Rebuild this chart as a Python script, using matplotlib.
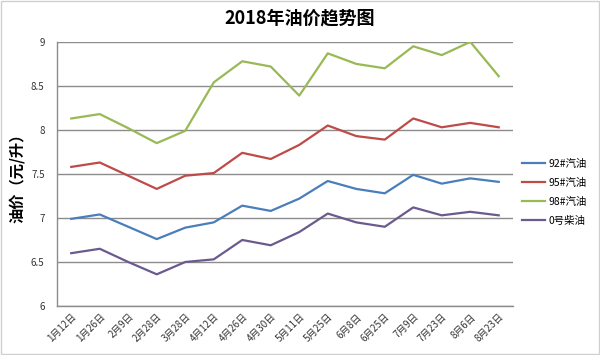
import matplotlib
matplotlib.use('Agg')
import matplotlib.pyplot as plt
from matplotlib.patches import Rectangle

plt.rcParams['font.family'] = ['Noto Sans CJK SC', 'DejaVu Sans']

# dates of price adjustment
dates = ['1月12日', '1月26日', '2月9日', '2月28日', '3月28日', '4月12日', '4月26日', '4月30日',
         '5月11日', '5月25日', '6月8日', '6月25日', '7月9日', '7月23日', '8月6日', '8月23日']

p92 = [6.99, 7.04, 6.90, 6.76, 6.89, 6.95, 7.14, 7.08, 7.22, 7.42, 7.33, 7.28, 7.49, 7.39, 7.45, 7.41]
p95 = [7.58, 7.63, 7.48, 7.33, 7.48, 7.51, 7.74, 7.67, 7.83, 8.05, 7.93, 7.89, 8.13, 8.03, 8.08, 8.03]
p98 = [8.13, 8.18, 8.02, 7.85, 7.99, 8.54, 8.78, 8.72, 8.39, 8.87, 8.75, 8.70, 8.95, 8.85, 9.00, 8.61]
p0 = [6.60, 6.65, 6.50, 6.36, 6.50, 6.53, 6.75, 6.69, 6.84, 7.05, 6.95, 6.90, 7.12, 7.03, 7.07, 7.03]

series = [
    ('92#汽油', p92, '#4a7ebb'),
    ('95#汽油', p95, '#be4b48'),
    ('98#汽油', p98, '#98b954'),
    ('0号柴油', p0, '#6b5a8e'),
]

fig = plt.figure(figsize=(6.0, 3.55), dpi=100)
ax = fig.add_axes([0.095, 0.138, 0.76, 0.744])

x = list(range(len(dates)))
for name, vals, col in series:
    ax.plot(x, vals, color=col, linewidth=1.6, label=name)

ax.set_xlim(-0.5, len(dates) - 0.5)
ax.set_ylim(6, 9)
ax.set_yticks([6, 6.5, 7, 7.5, 8, 8.5, 9])
ax.set_yticklabels(['6', '6.5', '7', '7.5', '8', '8.5', '9'])
ax.set_xticks(x)
ax.set_xticklabels(dates, rotation=45, ha='right', rotation_mode='anchor')
ax.tick_params(axis='both', length=0, labelsize=7, colors='#333333')
ax.tick_params(axis='y', pad=9)
ax.tick_params(axis='x', pad=4)

ax.grid(axis='y', color='#8c8c8c', linewidth=1.0)
ax.set_axisbelow(True)
for s in ['top', 'right']:
    ax.spines[s].set_visible(False)
for s in ['left', 'bottom']:
    ax.spines[s].set_color('#8c8c8c')
    ax.spines[s].set_linewidth(1.0)

ax.set_ylabel('油价（元/升）', fontsize=11, fontweight='bold', labelpad=4)

fig.suptitle('2018年油价趋势图', x=0.5, y=0.975, fontsize=13, fontweight='bold')

ax.legend(loc='center left', bbox_to_anchor=(1.0, 0.43), frameon=False,
          fontsize=7.5, handlelength=2.2, handletextpad=0.3, labelspacing=0.85)

# chart border
fig.patches.append(Rectangle((0.002, 0.004), 0.996, 0.992, transform=fig.transFigure,
                             fill=False, edgecolor='#d0d0d0', linewidth=1.0))

plt.savefig('out.png', dpi=100)
